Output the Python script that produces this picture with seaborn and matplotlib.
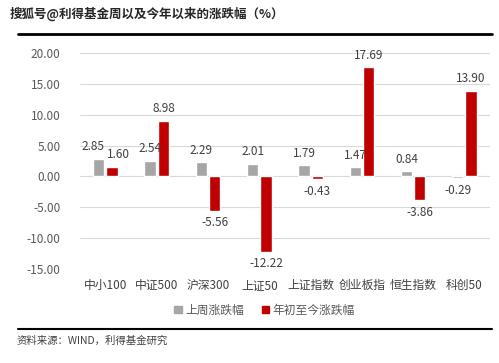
import pandas as pd
import numpy as np
from matplotlib import pyplot as plt
from matplotlib.patches import Patch
import seaborn as sns

# data
categories = ['中小100', '中证500', '沪深300', '上证50', '上证指数', '创业板指', '恒生指数', '科创50']
last_week = [2.85, 2.54, 2.29, 2.01, 1.79, 1.47, 0.84, -0.29]
ytd = [1.60, 8.98, -5.56, -12.22, -0.43, 17.69, -3.86, 13.90]
series_names = ['上周涨跌幅', '年初至今涨跌幅']
yticks = [20, 15, 10, 5, 0, -5, -10, -15]

df = pd.DataFrame({
    'index': categories * 2,
    'series': [series_names[0]] * len(categories) + [series_names[1]] * len(categories),
    'value': last_week + ytd,
})

sns.set_style('white')
plt.rcParams['font.family'] = ['Noto Sans CJK SC', 'DejaVu Sans']
plt.rcParams['axes.unicode_minus'] = False

palette = {series_names[0]: '#A6A6A6', series_names[1]: '#C00000'}

fig = plt.figure(figsize=(4.99, 3.63), dpi=100)
ax = fig.add_axes([0.160, 0.259, 0.822, 0.595])

sns.barplot(data=df, x='index', y='value', hue='series', palette=palette,
            width=0.52, gap=0.15, legend=False, ax=ax, saturation=1)

ax.set_ylim(-15, 20)
ax.set_xlim(-0.5, len(categories) - 0.5)
ax.set_yticks(yticks)
ax.set_yticklabels(['%.2f' % t for t in yticks], fontsize=8.5, color='#595959')
ax.tick_params(axis='x', labelsize=8.5, colors='#404040', length=0, pad=7)
ax.tick_params(axis='y', length=0, pad=14)
ax.set_xlabel('')
ax.set_ylabel('')
ax.grid(axis='y', color='#D9D9D9', linewidth=0.8)
ax.set_axisbelow(True)
for s in ['top', 'right', 'left', 'bottom']:
    ax.spines[s].set_visible(False)

# value labels; where both bars of a group are positive and close in height,
# push the two labels apart (like the original)
for k, cont in enumerate(ax.containers):
    for i, bar in enumerate(cont):
        h = bar.get_height()
        x = bar.get_x() + bar.get_width() / 2
        ha = 'center'
        if last_week[i] > 0 and ytd[i] > 0 and abs(last_week[i] - ytd[i]) < 3:
            if k == 0:
                x, ha = bar.get_x() + bar.get_width(), 'right'
            else:
                x, ha = bar.get_x(), 'left'
        if h >= 0:
            ax.annotate('%.2f' % h, (x, h), xytext=(0, 4), textcoords='offset points',
                        ha=ha, va='bottom', fontsize=8.5, color='#404040')
        else:
            ax.annotate('%.2f' % h, (x, h), xytext=(0, -4), textcoords='offset points',
                        ha=ha, va='top', fontsize=8.5, color='#404040')

handles = [Patch(color=palette[n], label=n) for n in series_names]
fig.legend(handles=handles, loc='center', bbox_to_anchor=(0.53, 0.145), ncol=2,
           frameon=False, fontsize=8.5, handlelength=0.6, handleheight=0.6,
           handletextpad=0.3, columnspacing=1.5, labelcolor='#595959')

# title, rules and source
fig.text(0.02, 0.962, '搜狐号@利得基金周以及今年以来的涨跌幅（%）', fontsize=9,
         fontweight='bold', color='#262626', va='center')
fig.add_artist(plt.Line2D([0.036, 0.986], [0.906, 0.906], color='black', linewidth=2))
fig.add_artist(plt.Line2D([0.036, 0.986], [0.094, 0.094], color='black', linewidth=1.5))
fig.text(0.034, 0.062, '资料来源：WIND，利得基金研究', fontsize=7.5, style='italic',
         color='#404040', va='center')

fig.savefig('out.png', dpi=100)
